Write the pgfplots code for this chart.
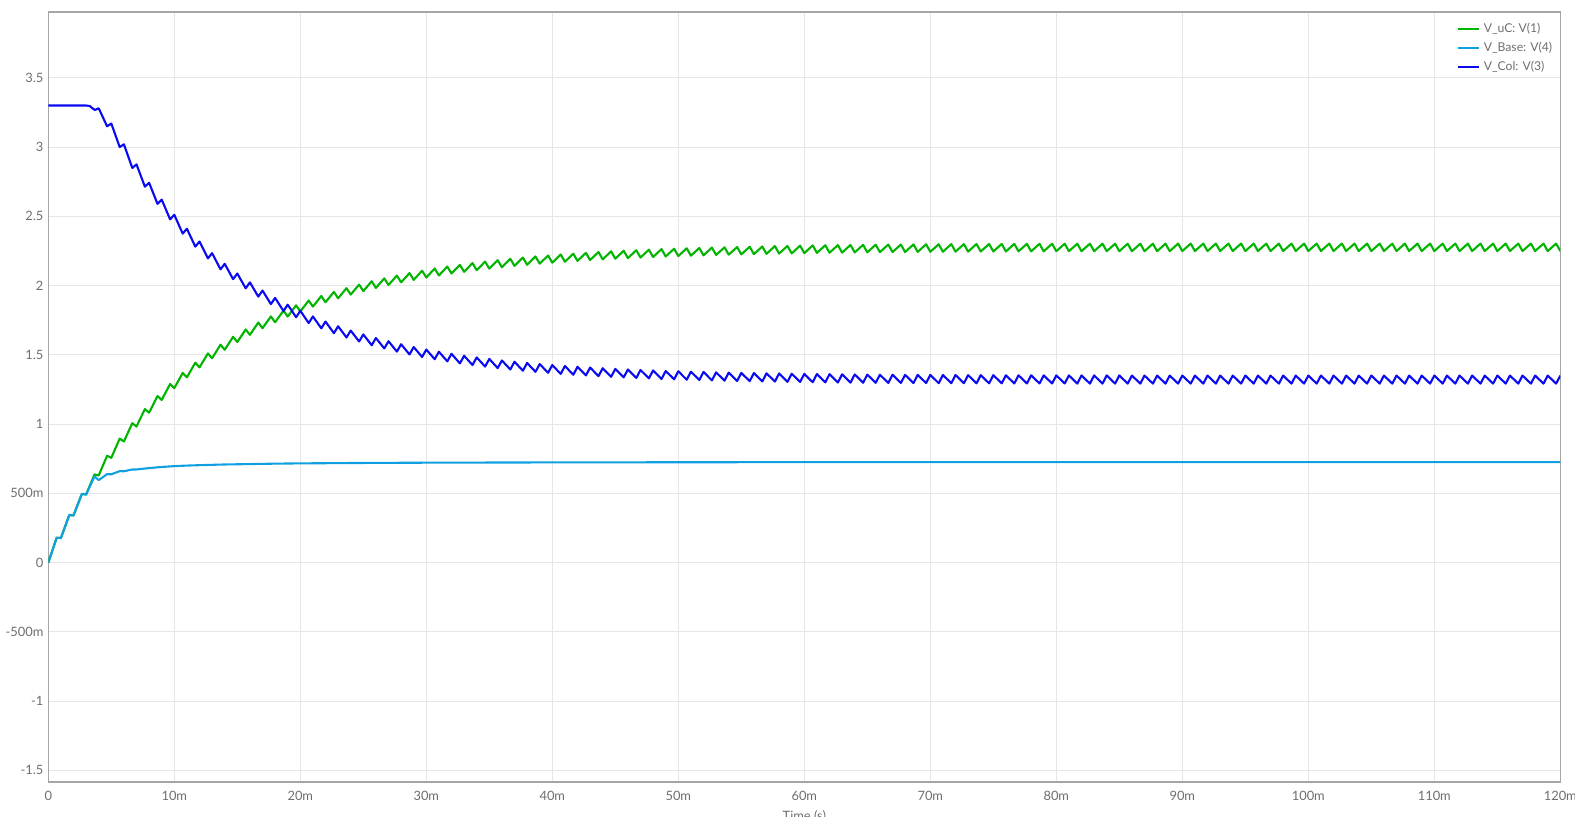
\documentclass[border=0pt]{standalone}
\usepackage{fontspec}
\setmainfont{Lato}
\usepackage{pgfplots}
\pgfplotsset{compat=1.18}

\definecolor{cUC}{HTML}{00B400}
\definecolor{cBase}{HTML}{10A0E2}
\definecolor{cCol}{HTML}{0A0AF2}
\definecolor{gridc}{HTML}{E6E6E6}
\definecolor{framec}{HTML}{A6A6A6}
\definecolor{txtc}{HTML}{6E6E6E}

\begin{document}
\begin{tikzpicture}
\begin{axis}[
    scale only axis,
    width=1080pt, height=550pt,
    xmin=0, xmax=120,
    ymin=-1.585, ymax=3.975,
    xtick={0,10,...,120},
    xticklabels={0,10m,20m,30m,40m,50m,60m,70m,80m,90m,100m,110m,120m},
    ytick={-1.5,-1,-0.5,0,0.5,1,1.5,2,2.5,3,3.5},
    yticklabels={-1.5,-1,-500m,0,500m,1,1.5,2,2.5,3,3.5},
    major tick length=0pt,
    grid=major,
    grid style={gridc, line width=0.7pt},
    axis line style={framec, line width=0.9pt},
    tick label style={font=\fontsize{9.2pt}{11pt}\selectfont, text=txtc},
    xticklabel style={yshift=-3pt},
    xlabel={Time (s)},
    xlabel style={at={(axis description cs:0.5,0)}, anchor=north, yshift=-17pt,
        font=\fontsize{9.2pt}{11pt}\selectfont, text=txtc},
    legend style={at={(axis description cs:1,1)}, anchor=north east,
        xshift=-2.6pt, yshift=-5.3pt, draw=none, fill=none,
        font=\fontsize{8.7pt}{10pt}\selectfont, text=txtc,
        nodes={inner sep=0pt, text height=7pt, text depth=2pt},
        row sep=4.6pt},
    legend cell align=left,
    legend image code/.code={\draw[#1] (0pt,0pt) -- (15pt,0pt); \path (18pt,0pt);},
    every axis plot/.append style={line width=1.5pt, line join=round},
]

% V_uC : V(1)
\addplot[cUC] coordinates {
(0,0) (0.667,0.179) (1,0.177) (1.667,0.343) (2,0.340) (2.667,0.496) (3,0.491)
(3.667,0.636) (4,0.629) (4.667,0.771) (5,0.756) (5.667,0.895) (6,0.874)
(6.667,1.006) (7,0.982) (7.667,1.108) (8,1.082) (8.667,1.202) (9,1.174)
(9.667,1.289) (10,1.259) (10.667,1.369) (11,1.337) (11.667,1.443) (12,1.409)
(12.667,1.510) (13,1.475) (13.667,1.573) (14,1.536) (14.667,1.630) (15,1.592)
(15.667,1.683) (16,1.644) (16.667,1.733) (17,1.692) (17.667,1.777) (18,1.735)
(18.667,1.819) (19,1.776) (19.667,1.857) (20,1.813) (20.667,1.892) (21,1.848)
(21.667,1.924) (22,1.879) (22.667,1.954) (23,1.908) (23.667,1.981) (24,1.935)
(24.667,2.007) (25,1.960) (25.667,2.031) (26,1.983) (26.667,2.052) (27,2.004)
(27.667,2.072) (28,2.023) (28.667,2.090) (29,2.041) (29.667,2.107) (30,2.058)
(30.667,2.123) (31,2.073) (31.667,2.137) (32,2.087) (32.667,2.149) (33,2.099)
(33.667,2.162) (34,2.111) (34.667,2.173) (35,2.122) (35.667,2.183) (36,2.132)
(36.667,2.193) (37,2.142) (37.667,2.202) (38,2.150) (38.667,2.210) (39,2.158)
(39.667,2.217) (40,2.165) (40.667,2.224) (41,2.172) (41.667,2.230) (42,2.178)
(42.667,2.236) (43,2.184) (43.667,2.242) (44,2.189) (44.667,2.247) (45,2.194)
(45.667,2.251) (46,2.198) (46.667,2.255) (47,2.202) (47.667,2.259) (48,2.206)
(48.667,2.263) (49,2.210) (49.667,2.266) (50,2.213) (50.667,2.269) (51,2.216)
(51.667,2.271) (52,2.218) (52.667,2.274) (53,2.221) (53.667,2.276) (54,2.223)
(54.667,2.278) (55,2.225) (55.667,2.280) (56,2.227) (56.667,2.282) (57,2.229)
(57.667,2.285) (58,2.231) (58.667,2.286) (59,2.232) (59.667,2.288) (60,2.234)
(60.667,2.290) (61,2.236) (61.667,2.291) (62,2.237) (62.667,2.292) (63,2.238)
(63.667,2.293) (64,2.239) (64.667,2.294) (65,2.240) (65.667,2.295) (66,2.241)
(66.667,2.296) (67,2.242) (67.667,2.296) (68,2.242) (68.667,2.297) (69,2.243)
(69.667,2.298) (70,2.244) (70.667,2.298) (71,2.244) (71.667,2.299) (72,2.245)
(72.667,2.299) (73,2.245) (73.667,2.300) (74,2.246) (74.667,2.300) (75,2.246)
(75.667,2.300) (76,2.246) (76.667,2.301) (77,2.247) (77.667,2.301) (78,2.247)
(78.667,2.301) (79,2.247) (79.667,2.302) (80,2.248) (80.667,2.302) (81,2.248)
(81.667,2.302) (82,2.248) (82.667,2.302) (83,2.248) (83.667,2.302) (84,2.248)
(84.667,2.302) (85,2.248) (85.667,2.302) (86,2.248) (86.667,2.302) (87,2.248)
(87.667,2.302) (88,2.248) (88.667,2.302) (89,2.248) (89.667,2.303) (90,2.249)
(90.667,2.303) (91,2.249) (91.667,2.303) (92,2.249) (92.667,2.303) (93,2.249)
(93.667,2.303) (94,2.249) (94.667,2.303) (95,2.249) (95.667,2.303) (96,2.249)
(96.667,2.303) (97,2.249) (97.667,2.303) (98,2.249) (98.667,2.303) (99,2.249)
(99.667,2.303) (100,2.249) (100.667,2.303) (101,2.249) (101.667,2.303) (102,2.249)
(102.667,2.303) (103,2.249) (103.667,2.303) (104,2.249) (104.667,2.303) (105,2.249)
(105.667,2.303) (106,2.249) (106.667,2.303) (107,2.249) (107.667,2.303) (108,2.249)
(108.667,2.303) (109,2.249) (109.667,2.303) (110,2.249) (110.667,2.303) (111,2.249)
(111.667,2.303) (112,2.249) (112.667,2.303) (113,2.249) (113.667,2.303) (114,2.249)
(114.667,2.303) (115,2.249) (115.667,2.303) (116,2.249) (116.667,2.303) (117,2.249)
(117.667,2.303) (118,2.249) (118.667,2.303) (119,2.249) (119.667,2.303) (120,2.249)
};
\addlegendentry{V\_uC: V(1)}

% V_Base : V(4)
\addplot[cBase] coordinates {
(0,0) (0.667,0.179) (1,0.177) (1.667,0.343) (2,0.340) (2.667,0.496) (3,0.491)
(3.667,0.622) (4,0.595) (4.667,0.638) (5,0.637) (5.667,0.660) (6,0.659)
(6.667,0.672) (7,0.672) (8,0.682) (9,0.690) (10,0.696) (11,0.700) (12,0.703)
(14,0.708) (16,0.711) (18,0.714) (20,0.716) (25,0.719) (30,0.721) (35,0.722)
(40,0.723) (50,0.724) (60,0.725) (120,0.725)
};
\addlegendentry{V\_Base: V(4)}

% V_Col : V(3)
\addplot[cCol] coordinates {
(0,3.300) (3,3.300) (3.3,3.296) (3.5,3.280) (3.7,3.268) (4,3.280)
(4.667,3.150) (5,3.170) (5.667,3.000) (6,3.020) (6.667,2.849) (7,2.875)
(7.667,2.714) (8,2.742) (8.667,2.590) (9,2.621) (9.667,2.478) (10,2.511)
(10.667,2.375) (11,2.410) (11.667,2.281) (12,2.318) (12.667,2.196) (13,2.234)
(13.667,2.117) (14,2.157) (14.667,2.046) (15,2.087) (15.667,1.980) (16,2.023)
(16.667,1.920) (17,1.964) (17.667,1.866) (18,1.911) (18.667,1.816) (19,1.862)
(19.667,1.771) (20,1.818) (20.667,1.729) (21,1.777) (21.667,1.691) (22,1.740)
(22.667,1.656) (23,1.706) (23.667,1.625) (24,1.675) (24.667,1.596) (25,1.647)
(25.667,1.569) (26,1.621) (26.667,1.546) (27,1.598) (27.667,1.523) (28,1.576)
(28.667,1.503) (29,1.556) (29.667,1.484) (30,1.538) (30.667,1.468) (31,1.522)
(31.667,1.453) (32,1.507) (32.667,1.438) (33,1.493) (33.667,1.426) (34,1.481)
(34.667,1.415) (35,1.470) (35.667,1.404) (36,1.459) (36.667,1.394) (37,1.450)
(37.667,1.385) (38,1.441) (38.667,1.377) (39,1.433) (39.667,1.370) (40,1.426)
(40.667,1.362) (41,1.419) (41.667,1.356) (42,1.413) (42.667,1.351) (43,1.408)
(43.667,1.346) (44,1.403) (44.667,1.341) (45,1.398) (45.667,1.337) (46,1.394)
(46.667,1.333) (47,1.390) (47.667,1.330) (48,1.387) (48.667,1.325) (49,1.383)
(49.667,1.323) (50,1.381) (50.667,1.320) (51,1.378) (51.667,1.318) (52,1.376)
(52.667,1.315) (53,1.373) (53.667,1.313) (54,1.371) (54.667,1.311) (55,1.369)
(55.667,1.310) (56,1.368) (56.667,1.308) (57,1.366) (57.667,1.307) (58,1.365)
(58.667,1.305) (59,1.363) (59.667,1.304) (60,1.362) (60.667,1.302) (61,1.361)
(61.667,1.301) (62,1.360) (62.667,1.300) (63,1.359) (63.667,1.299) (64,1.358)
(64.667,1.298) (65,1.357) (65.667,1.298) (66,1.356) (66.667,1.297) (67,1.356)
(67.667,1.297) (68,1.355) (68.667,1.296) (69,1.355) (69.667,1.296) (70,1.355)
(70.667,1.295) (71,1.354) (71.667,1.295) (72,1.354) (72.667,1.295) (73,1.353)
(73.667,1.294) (74,1.353) (74.667,1.294) (75,1.353) (75.667,1.294) (76,1.352)
(76.667,1.293) (77,1.352) (77.667,1.293) (78,1.352) (78.667,1.293) (79,1.351)
(79.667,1.293) (80,1.351) (80.667,1.293) (81,1.351) (81.667,1.292) (82,1.351)
(82.667,1.292) (83,1.351) (83.667,1.292) (84,1.351) (84.667,1.292) (85,1.351)
(85.667,1.292) (86,1.350) (86.667,1.292) (87,1.350) (87.667,1.292) (88,1.350)
(88.667,1.292) (89,1.350) (89.667,1.292) (90,1.350) (90.667,1.292) (91,1.350)
(91.667,1.292) (92,1.350) (92.667,1.292) (93,1.350) (93.667,1.292) (94,1.350)
(94.667,1.292) (95,1.350) (95.667,1.292) (96,1.350) (96.667,1.292) (97,1.350)
(97.667,1.292) (98,1.350) (98.667,1.292) (99,1.350) (99.667,1.292) (100,1.350)
(100.667,1.292) (101,1.350) (101.667,1.292) (102,1.350) (102.667,1.292) (103,1.350)
(103.667,1.292) (104,1.350) (104.667,1.292) (105,1.350) (105.667,1.292) (106,1.350)
(106.667,1.292) (107,1.350) (107.667,1.292) (108,1.350) (108.667,1.292) (109,1.350)
(109.667,1.292) (110,1.350) (110.667,1.292) (111,1.350) (111.667,1.292) (112,1.350)
(112.667,1.292) (113,1.350) (113.667,1.292) (114,1.350) (114.667,1.292) (115,1.350)
(115.667,1.292) (116,1.350) (116.667,1.292) (117,1.350) (117.667,1.292) (118,1.350)
(118.667,1.292) (119,1.350) (119.667,1.292) (120,1.350)
};
\addlegendentry{V\_Col: V(3)}

\coordinate (sw) at (rel axis cs:0,0);
\coordinate (ne) at (rel axis cs:1,1);
\end{axis}
\pgfresetboundingbox
\path[use as bounding box] ([xshift=-34.5pt,yshift=-24.3pt]sw) rectangle ([xshift=10.5pt,yshift=8.6pt]ne);
\end{tikzpicture}
\end{document}
